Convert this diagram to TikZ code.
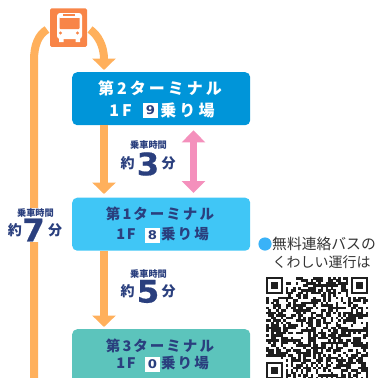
\documentclass[tikz,border=0pt]{standalone}
\usepackage{fontspec}
\usetikzlibrary{arrows.meta}
\newfontfamily\jp{Noto Sans CJK JP}[BoldFont={Noto Sans CJK JP Black}]
\newfontfamily\jptitle{Noto Sans CJK JP Black}[LetterSpace=14]
\newfontfamily\jptitleB{Noto Sans CJK JP Black}[LetterSpace=19]
\newfontfamily\jpnum{DejaVu Sans Bold}[FakeBold=0.6,FakeStretch=1.05]
\newfontfamily\jpplate{DejaVu Sans Bold}[FakeStretch=1.1]
\definecolor{navy}{HTML}{2A3F7E}
\definecolor{route}{HTML}{FFB05C}
\definecolor{pinkarrow}{HTML}{F490BC}
\definecolor{busorange}{HTML}{F88548}
\definecolor{termA}{HTML}{0095D9}
\definecolor{termB}{HTML}{40C6F6}
\definecolor{termC}{HTML}{5CC4BC}
\tikzset{
  termbox/.style={rounded corners=5pt,minimum width=178pt,minimum height=53pt,anchor=north west,inner sep=0pt},
  termline/.style={font=\jptitleB\fontsize{16}{17}\selectfont,inner sep=0pt,text=white},
  sideline/.style={font=\jptitle\fontsize{14.5}{15}\selectfont,inner sep=0pt,text=navy},
  platebox/.style={fill=white,minimum width=15pt,minimum height=15pt,inner sep=0pt,font=\jpplate\fontsize{12}{12}\selectfont,text=navy},
  routeline/.style={draw=route,line width=8pt},
  routearrow/.style={routeline,-{Triangle[length=11.5pt,width=23pt]}},
  pinkline/.style={draw=pinkarrow,line width=7.5pt,{Triangle[length=12pt,width=23pt]}-{Triangle[length=12pt,width=23pt]}},
  ridelabel/.style={font=\jp\bfseries\fontsize{9.2}{9.5}\selectfont,inner sep=0pt,text=navy},
  yaku/.style={font=\jp\bfseries\fontsize{14}{14}\selectfont,inner sep=0pt,text=navy},
  bignum/.style={font=\jpnum\fontsize{31}{32}\selectfont,inner sep=0pt,text=navy},
  notice/.style={inner sep=0pt,text=black!80,anchor=west},
}
\begin{document}
\begin{tikzpicture}[x=1pt,y=-1pt]
\useasboundingbox (0,0) rectangle (376,378);
\clip (0,0) rectangle (376,378);
% terminals
\node[termbox,fill=termA] (t2) at (72,72) {};
\node[termbox,fill=termB] (t1) at (72,197.5) {};
\node[termbox,fill=termC,minimum height=70pt] (t3) at (72,329) {};
% bus icon
\node[fill=busorange,rounded corners=1.5pt,minimum width=37pt,minimum height=38.5pt,inner sep=0pt] (bus) at (68.5,27.5) {};
\coordinate (busL) at (47,29.5);
\coordinate (busR) at (90,29.5);
\fill[white,rounded corners=3pt] (57,13) rectangle (82,39);
\fill[white] (59,38) rectangle (63.5,42) (75.5,38) rectangle (80,42);
\fill[busorange,rounded corners=1pt] (59.5,17) rectangle (79.5,29);
\fill[white] (59.5,16) rectangle (79.5,18);
\fill[busorange] (62.5,14.3) rectangle (75,15.8);
\fill[busorange] (60.5,33) circle (1.6) (77.5,33) circle (1.6);
% connectors
\coordinate (leftEnd) at (34,380);
\draw[routeline] (busL) .. controls (38,35) and (34,46) .. (34,60) -- (leftEnd);
\coordinate (a1) at (104,70);
\draw[routearrow] (busR) .. controls (98,35) and (104,46) .. (a1);
\draw[routearrow,shorten >=3.5pt] (t2.south -| a1) -- (t1.north -| a1);
\draw[routearrow,shorten >=2pt] (t1.south -| a1) -- (t3.north -| a1);
\coordinate (p) at (193.5,160);
\draw[pinkline,shorten >=4.5pt] (t2.south -| p) ++(0,5) coordinate (ptop) -- (ptop |- t1.north);
% terminal texts
\node[termline] (t2a) at (160,88) {第2ターミナル};
\node[termline] (t2b) at (120.5,110.5) {1\hspace{3pt}F};
\node[platebox] (t2n) at (150.5,110.5) {9};
\node[termline] (t2c) at (187.5,110.5) {乗り場};
\node[sideline] (t1a) at (160,214) {第1ターミナル};
\node[sideline] (t1b) at (126,234.5) {1\hspace{1.5pt}F};
\node[platebox] (t1n) at (152.5,235) {8};
\node[sideline] (t1c) at (185,234.5) {乗り場};
\node[sideline] (t3a) at (160,346) {第3ターミナル};
\node[sideline] (t3b) at (126,363.5) {1\hspace{1.5pt}F};
\node[platebox] (t3n) at (152.5,364) {0};
\node[sideline] (t3c) at (185,363.5) {乗り場};
% ride times
\node[ridelabel] (r1) at (148.5,145) {乗車時間};
\node[yaku] (r1a) at (127.5,163) {約};
\node[bignum] (r1b) at (148,164) {3};
\node[yaku] (r1c) at (168.5,163) {分};
\node[ridelabel] (r2) at (148.5,273.5) {乗車時間};
\node[yaku] (r2a) at (127.5,291) {約};
\node[bignum] (r2b) at (148,291.5) {5};
\node[yaku] (r2c) at (168.5,291) {分};
\fill[white] (27,208) rectangle (41,242);
\node[ridelabel] (r3) at (35.5,213) {乗車時間};
\node[yaku] (r3a) at (15,230.5) {約};
\node[bignum] (r3b) at (33.5,230) {7};
\node[yaku] (r3c) at (55,230.5) {分};
% notice
\fill[termB!90!blue] (265,244) circle (6.6);
\node[notice,font=\jp\fontsize{14.8}{15}\selectfont] (n1) at (272,244) {無料連絡バスの};
\node[notice,font=\jp\fontsize{14}{15}\selectfont] (n2) at (272.5,262) {くわしい運行は};
% QR code
\pgfmathsetseed{4217}
\def\qrm{2.49}
\foreach \r in {0,...,40}{
  \foreach \c in {0,...,40}{
    \pgfmathparse{rnd<0.55?1:0}
    \ifnum\pgfmathresult=1
      \fill[black!88] ({266+\c*\qrm},{277+\r*\qrm}) rectangle ++({\qrm+0.05},{\qrm+0.05});
    \fi
  }
}
\foreach \ox/\oy in {0/0,34/0,0/34}{
  \fill[white] ({266+(\ox-(\ox>0?1:0))*\qrm},{277+(\oy-(\oy>0?1:0))*\qrm}) rectangle ++({8*\qrm},{8*\qrm});
  \fill[black!88] ({266+\ox*\qrm},{277+\oy*\qrm}) rectangle ++({7*\qrm},{7*\qrm});
  \fill[white] ({266+(\ox+1)*\qrm},{277+(\oy+1)*\qrm}) rectangle ++({5*\qrm},{5*\qrm});
  \fill[black!88] ({266+(\ox+2)*\qrm},{277+(\oy+2)*\qrm}) rectangle ++({3*\qrm},{3*\qrm});
}
\end{tikzpicture}
\end{document}
